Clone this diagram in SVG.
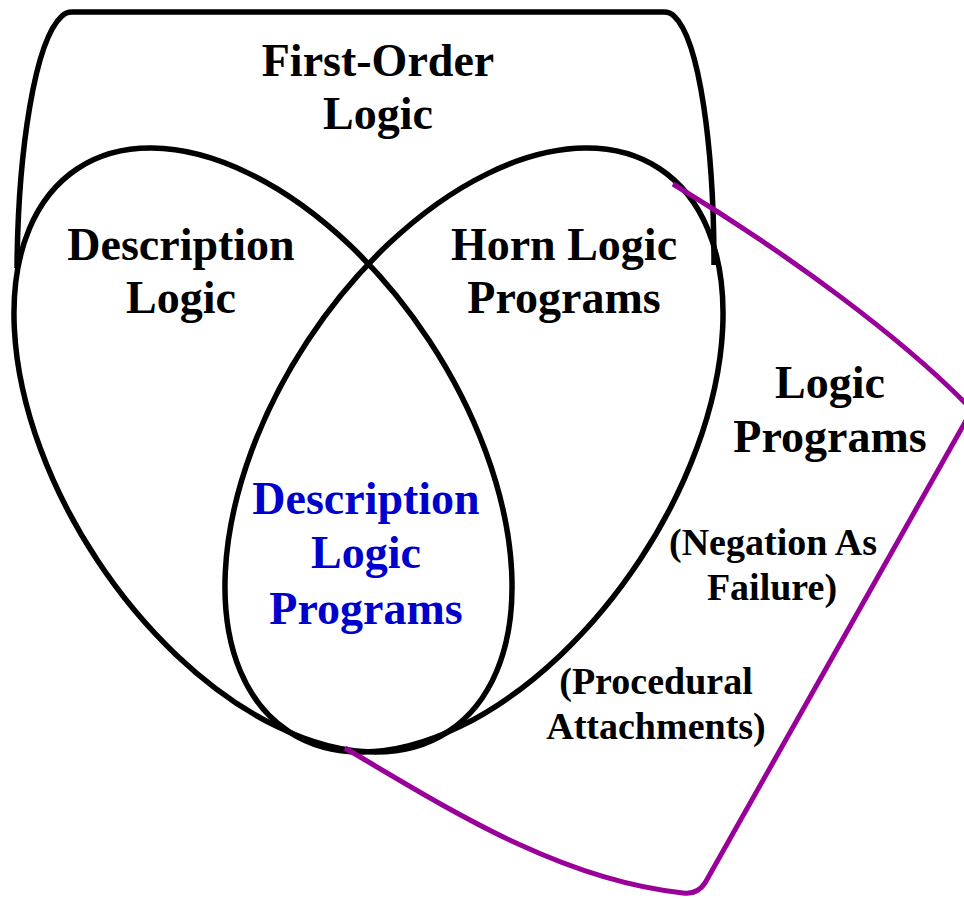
<svg xmlns="http://www.w3.org/2000/svg" width="964" height="899" viewBox="0 0 964 899">
<style>
.outline{fill:none;stroke:#000;stroke-width:5.5}
.lp{fill:none;stroke:#990099;stroke-width:5;stroke-linejoin:round}
text{font-family:"Liberation Serif","Times New Roman",serif;font-weight:bold;text-anchor:middle;fill:#000}
.big{font-size:46px}
.small{font-size:38px}
.blue{fill:#0000cc}
</style>
<rect width="964" height="899" fill="#fff"/>
<g id="fol">
<path class="outline" d="M17,268 C18,150 35,40 62,16 Q66,12 72,12 L664,12 Q670,12 674,16 C700,40 714,150 714,265"/>
<text class="big" x="378" y="76">First-Order</text>
<text class="big" x="378" y="129">Logic</text>
</g>
<g id="dl">
<ellipse class="outline" cx="263" cy="450" rx="337" ry="199" transform="rotate(56.6 263 450)"/>
<text class="big" x="181" y="260">Description</text>
<text class="big" x="181" y="313">Logic</text>
</g>
<g id="hlp">
<ellipse class="outline" cx="474" cy="450" rx="337" ry="199" transform="rotate(-56.6 474 450)"/>
<text class="big" x="564" y="260">Horn Logic</text>
<text class="big" x="564" y="313">Programs</text>
</g>
<g id="dlp">
<text class="big blue" x="366" y="514">Description</text>
<text class="big blue" x="366" y="568">Logic</text>
<text class="big blue" x="366" y="624">Programs</text>
</g>
<g id="lp">
<path class="lp" d="M673,184 C790,255 905,340 972,410 L705,883 Q697,895 683,893 C560,880 450,810 345,748"/>
<text class="big" x="830" y="398">Logic</text>
<text class="big" x="830" y="452">Programs</text>
<text class="small" x="773" y="555">(Negation As</text>
<text class="small" x="772" y="600">Failure)</text>
<text class="small" x="656" y="694">(Procedural</text>
<text class="small" x="656" y="739">Attachments)</text>
</g>
<g id="connectors"></g>
</svg>
